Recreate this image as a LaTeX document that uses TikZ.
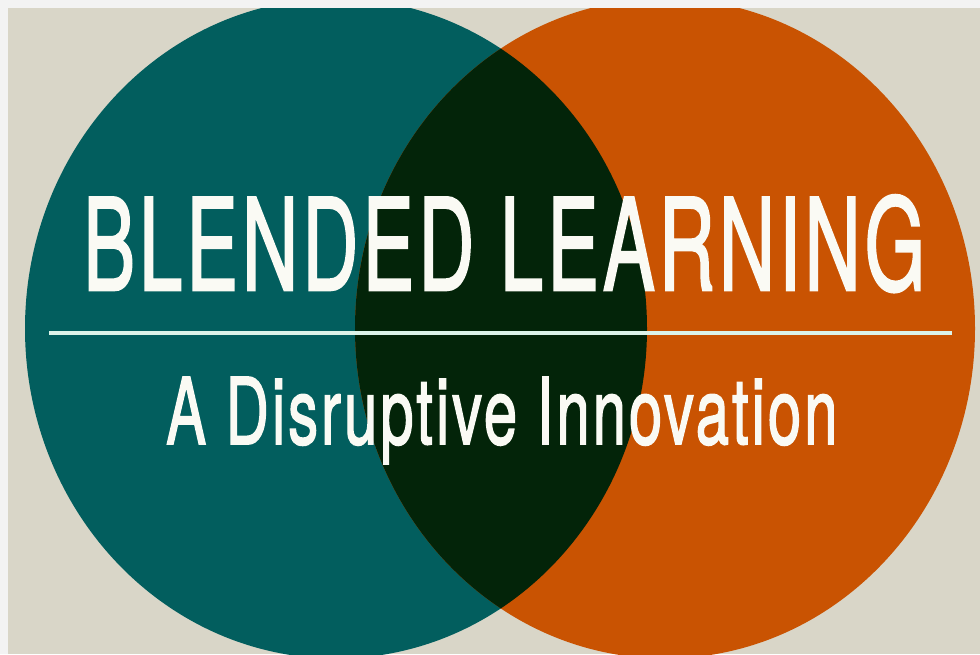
\documentclass[tikz,border=0pt]{standalone}
\usepackage{graphicx,color}
\usepackage{fontspec}
\setmainfont{TeX Gyre Heros}
\newfontfamily\bannerfont{TeX Gyre Heros}[FakeBold=2, LetterSpace=5]
\usepackage{tikz}

\definecolor{paper}{RGB}{217,214,200}
\definecolor{edge}{RGB}{243,243,243}
\definecolor{tealdisk}{RGB}{2,94,94}
\definecolor{orangedisk}{RGB}{201,83,2}
\definecolor{blend}{RGB}{3,36,9}
\definecolor{ink}{RGB}{250,250,244}
\definecolor{rulecol}{RGB}{220,243,233}

\begin{document}
\begin{tikzpicture}[x=1pt, y=-1pt,
	banner/.style={inner sep=0pt, text=ink, font=\bannerfont}]
	\useasboundingbox (0,0) rectangle (980,654);
	\fill[edge] (0,0) rectangle (980,654);
	\fill[paper] (8,8) rectangle (980,654);
	\begin{scope}
		\clip (8,8) rectangle (980,654);
		\fill[tealdisk] (336,328.5) ellipse [x radius=311, y radius=330];
		\fill[orangedisk] (665,328.5) ellipse [x radius=310, y radius=330];
		\clip (336,328.5) ellipse [x radius=311, y radius=330];
		\fill[blend] (665,328.5) ellipse [x radius=310, y radius=330];
	\end{scope}
	\node[banner, anchor=base west] (title) at (83,290)
		{\resizebox{842pt}{95pt}{BLENDED LEARNING}};
	\coordinate (rule west) at (49,333);
	\coordinate (rule east) at (952,333);
	\draw[rulecol, line width=3.5pt] (rule west) -- (rule east);
	\node[banner, anchor=base west] (subtitle) at (166,444)
		{\resizebox{671pt}{67pt}{A Disruptive Innovation}};
\end{tikzpicture}
\end{document}
